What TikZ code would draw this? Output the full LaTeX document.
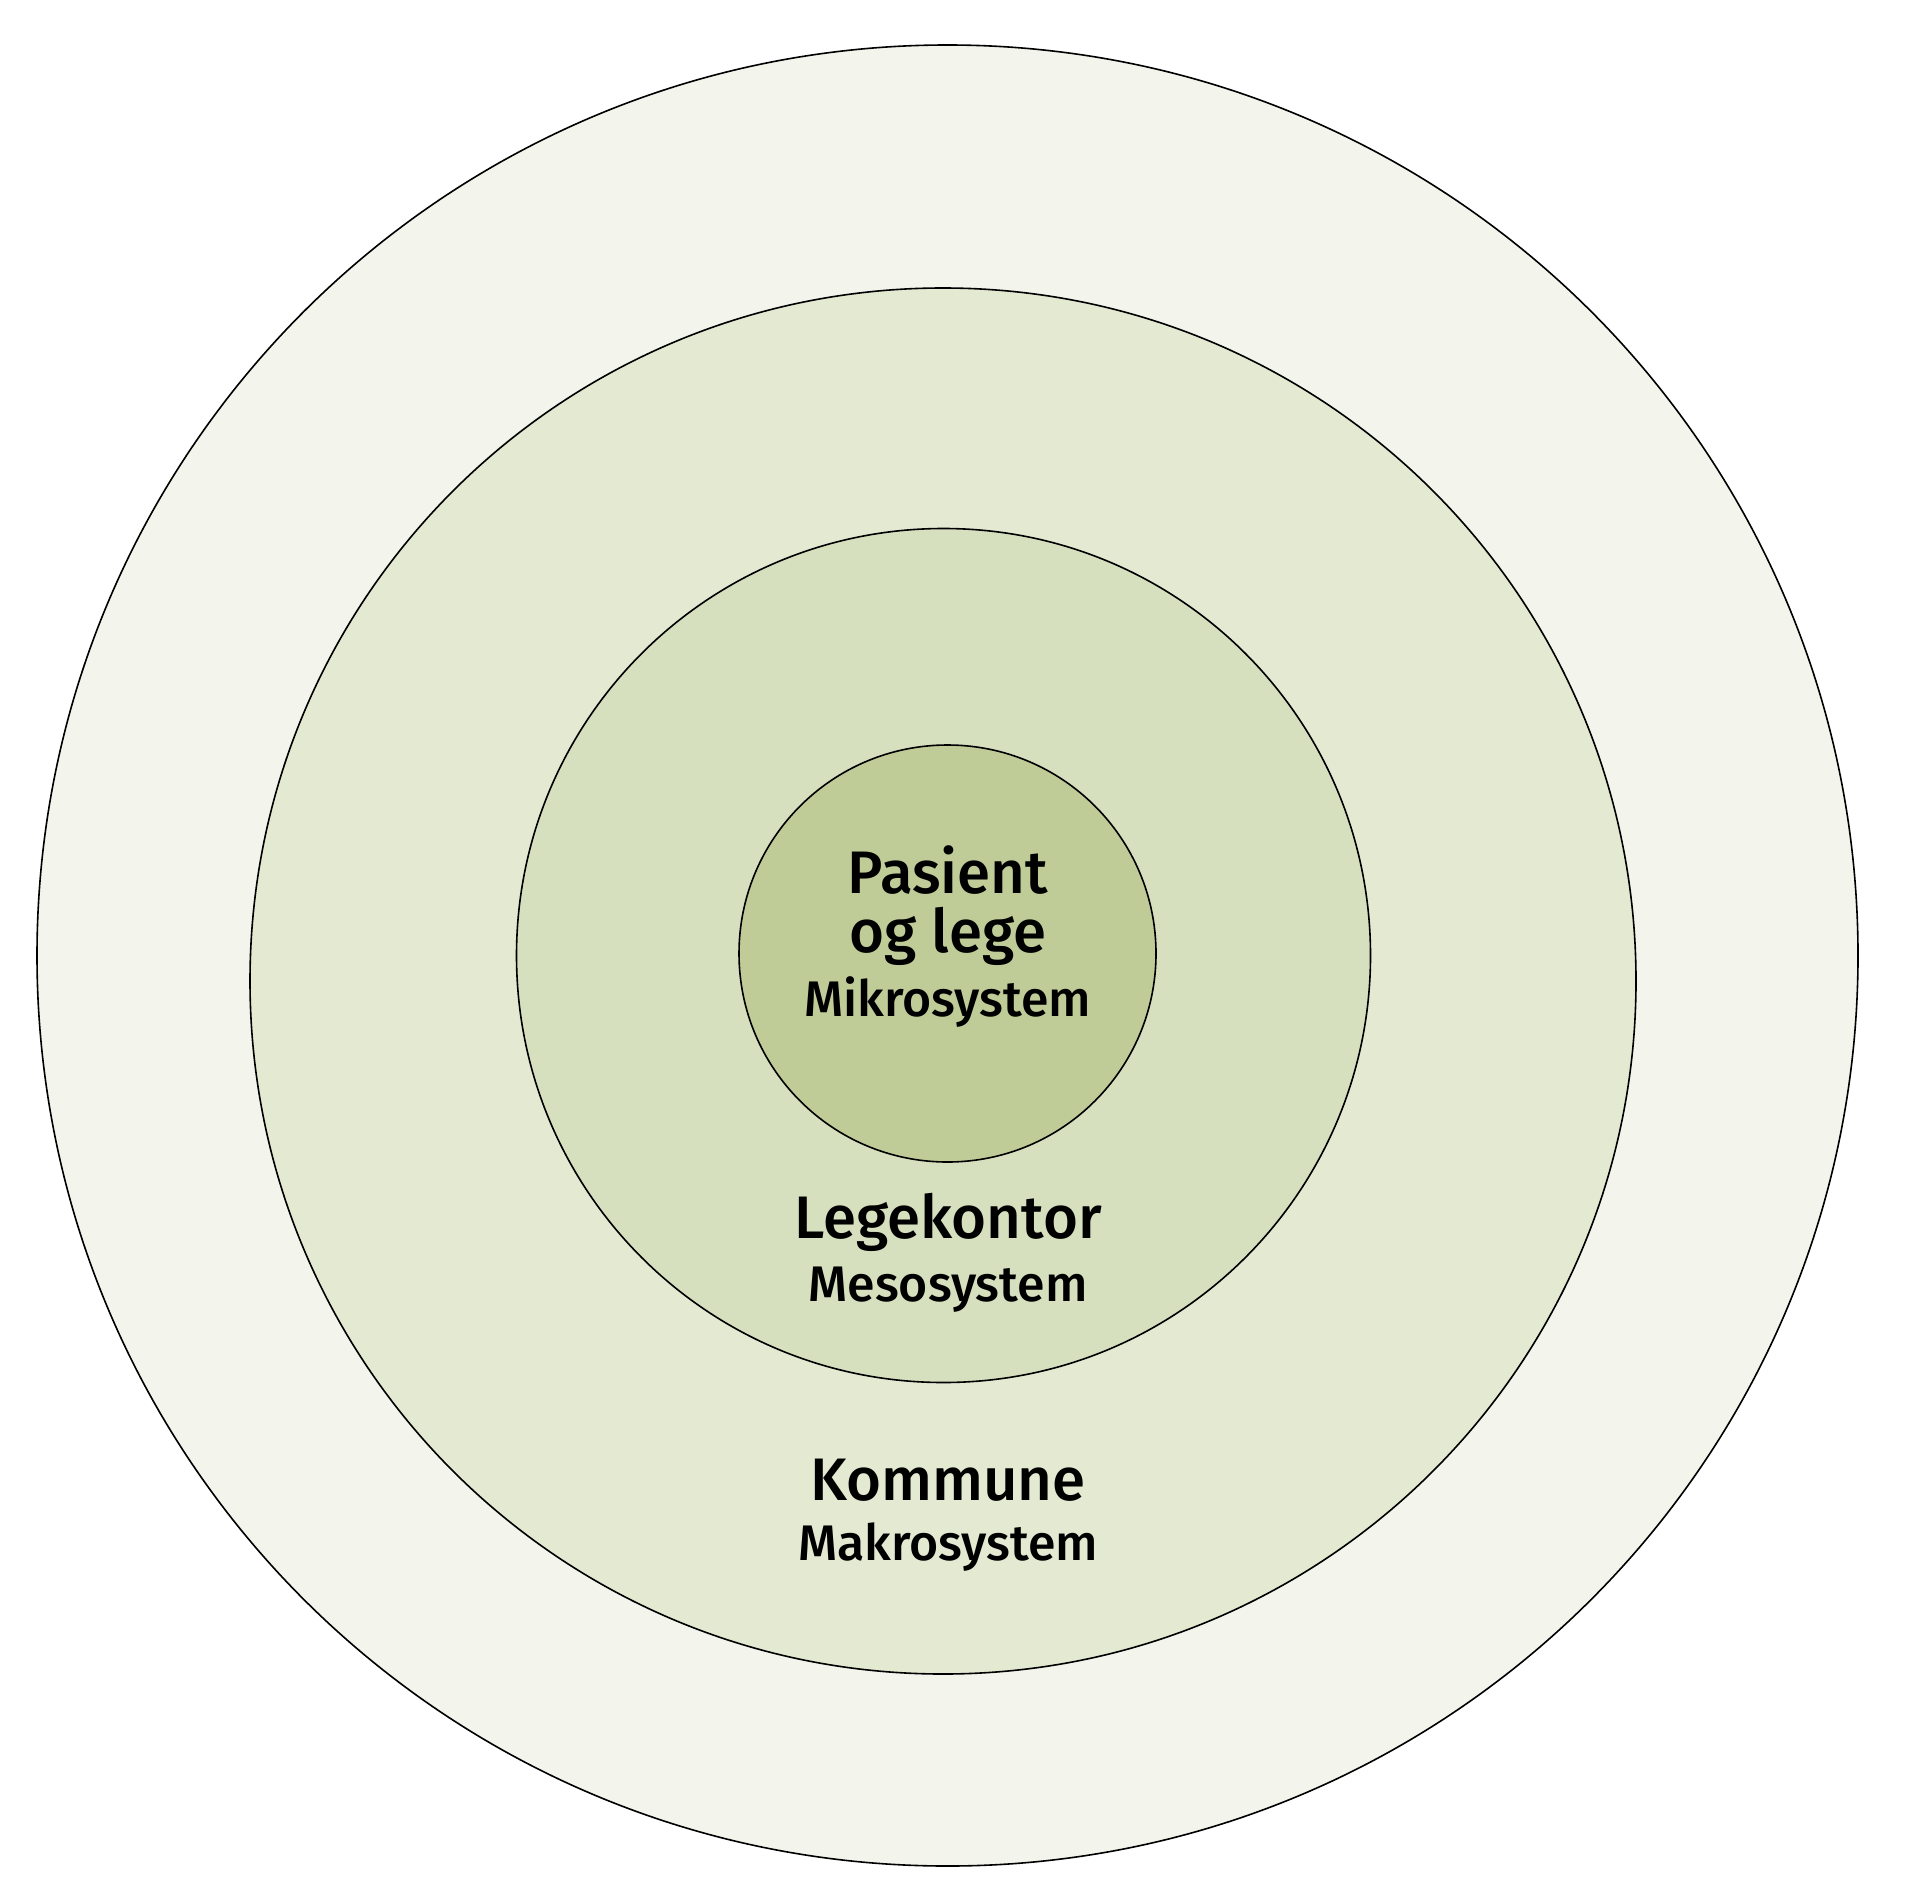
\documentclass[tikz,border=0pt]{standalone}
\usepackage{fontspec}
\setmainfont{Fira Sans}[UprightFont=* Medium]
\definecolor{ringA}{HTML}{F3F4EB}
\definecolor{ringB}{HTML}{E4E9D2}
\definecolor{ringC}{HTML}{D6E0BF}
\definecolor{ringD}{HTML}{BFCC98}
\begin{document}
\begin{tikzpicture}[x=0.5pt,y=-0.5pt,
  ring/.style={circle,draw=black,line width=0.8pt,inner sep=0pt,outer sep=0pt},
  big/.style={anchor=base,inner sep=0pt,font=\fontsize{30}{30}\selectfont},
  small/.style={anchor=base,inner sep=0pt,font=\fontsize{25}{25}\selectfont}]
\useasboundingbox[fill=white] (0,0) rectangle (1920,1894);
\node[ring,fill=ringA,minimum size=910.5pt] (outer) at (947.5,955.5) {};
\node[ring,fill=ringB,minimum size=693pt] (second) at (943,981) {};
\node[ring,fill=ringC,minimum size=427pt] (third) at (943.5,955.5) {};
\node[ring,fill=ringD,minimum size=208.5pt] (inner) at (947.5,953.5) {};
\node[big] (pasient) at (948,893) {Pasient};
\node[big] (oglege) at (948,952) {og lege};
\node[small] (mikro) at (948,1016) {Mikrosystem};
\node[big] (legekontor) at (948,1238) {Legekontor};
\node[small] (meso) at (948,1301) {Mesosystem};
\node[big] (kommune) at (948,1500) {Kommune};
\node[small] (makro) at (948,1560) {Makrosystem};
\end{tikzpicture}
\end{document}
